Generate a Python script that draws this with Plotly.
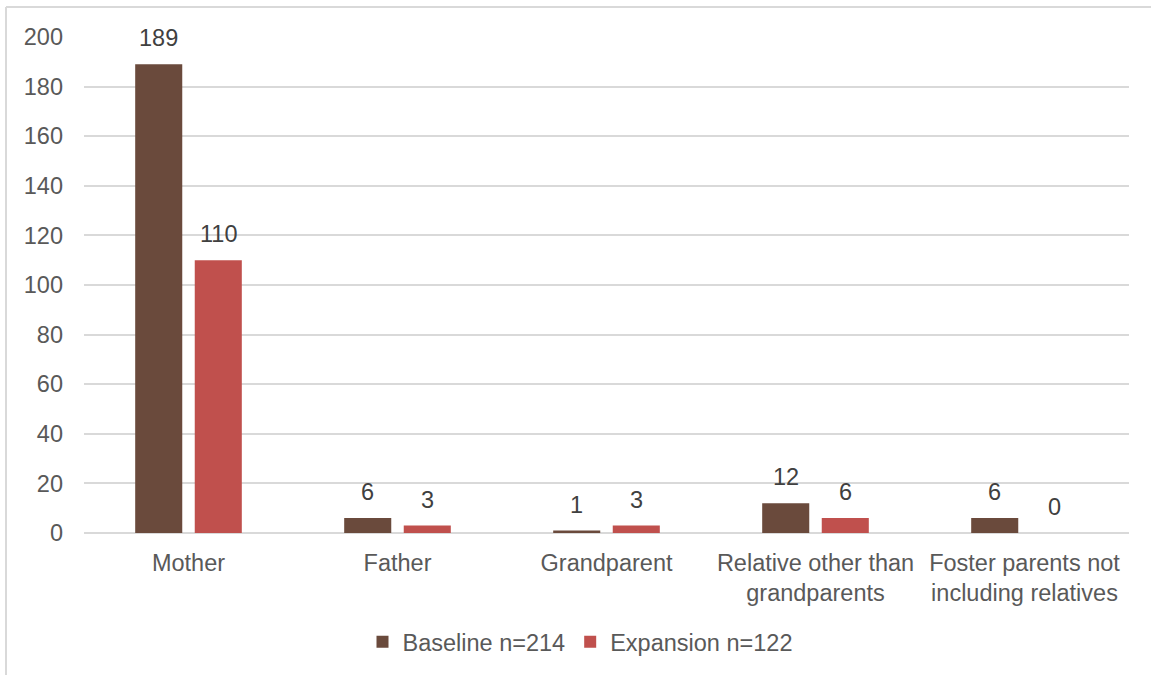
import plotly.graph_objects as go

categories = ["Mother", "Father", "Grandparent", "Relative other than<br>grandparents",
              "Foster parents not<br>including relatives"]
baseline = [189, 6, 1, 12, 6]
expansion = [110, 3, 3, 6, 0]
series_names = ["Baseline n=214", "Expansion n=122"]
colors = ["#6A4A3C", "#C0504D"]
y_ticks = [0, 20, 40, 60, 80, 100, 120, 140, 160, 180, 200]

W, H = 1151, 675
L, R, T, B = 84, 1129, 37, 534
FONT = "Liberation Sans, Arial, sans-serif"
FS = 23.5

fig = go.Figure()
for name, vals, col in zip(series_names, [baseline, expansion], colors):
    fig.add_trace(go.Bar(
        x=categories, y=vals, name=name, marker=dict(color=col, line=dict(width=0)),
    ))

# data labels
for i, vals in enumerate([baseline, expansion]):
    for c, v in zip(categories, vals):
        fig.add_annotation(
            x=c, y=v, text=str(v), showarrow=False,
            xshift=(-30 if i == 0 else 30), yshift=11, yanchor="bottom",
            font=dict(family=FONT, size=FS, color="#404040"),
        )

pw, ph = R - L, B - T
def px(x):
    return (x - L) / pw
def py(y):
    return (B - y) / ph

# outer chart border (left and top)
fig.add_shape(type="line", xref="paper", yref="paper",
              x0=px(6), x1=px(6), y0=py(7), y1=py(700),
              line=dict(color="#D9D9D9", width=2))
fig.add_shape(type="line", xref="paper", yref="paper",
              x0=px(6), x1=px(1200), y0=py(7), y1=py(7),
              line=dict(color="#D9D9D9", width=2))

fig.update_layout(
    width=W, height=H,
    margin=dict(l=L, r=W - R, t=T, b=H - B),
    paper_bgcolor="white", plot_bgcolor="white",
    barmode="group", bargap=0.43, bargroupgap=0.21,
    font=dict(family=FONT, size=FS, color="#595959"),
    showlegend=True,
    legend=dict(orientation="h", x=px(580), xanchor="center", y=py(642), yanchor="middle",
                font=dict(family=FONT, size=FS, color="#595959"),
                itemwidth=30, traceorder="normal"),
    xaxis=dict(showgrid=False, showline=False, ticks="", ticklabelstandoff=13,
               tickfont=dict(family=FONT, size=FS, color="#595959")),
    yaxis=dict(range=[0, 200], tickvals=y_ticks, showgrid=True, gridcolor="#D9D9D9",
               gridwidth=2, zeroline=True, zerolinecolor="#D9D9D9", zerolinewidth=2,
               showline=False, ticks="", ticklabelstandoff=20,
               tickfont=dict(family=FONT, size=FS, color="#595959")),
)

fig.write_html("out.html")
